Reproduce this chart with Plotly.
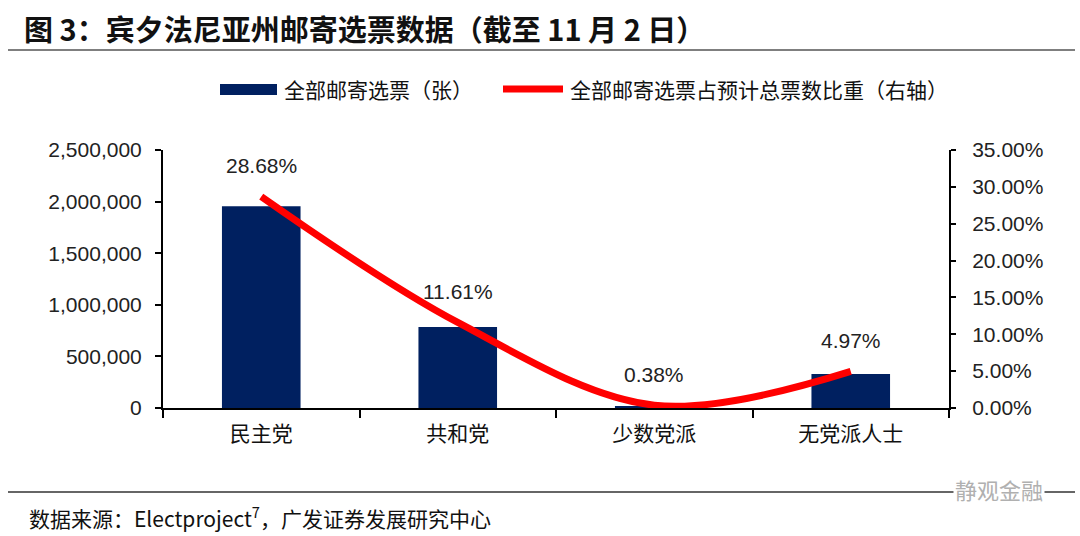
import plotly.graph_objects as go

categories = ["民主党", "共和党", "少数党派", "无党派人士"]
mail_ballots = [1955000, 785000, 15000, 330000]
share_pct = [0.2868, 0.1161, 0.0038, 0.0497]
share_labels = ["28.68%", "11.61%", "0.38%", "4.97%"]

title_text = "<b>图 3：宾夕法尼亚州邮寄选票数据（截至 11 月 2 日）</b>"
legend_bar = "全部邮寄选票（张）"
legend_line = "全部邮寄选票占预计总票数比重（右轴）"
source_text = "数据来源：Electproject<sup>7</sup>，广发证券发展研究中心"
watermark = "静观金融"

W, H = 1080, 536
L, R, T, B = 163, 131, 150, 128
PW, PH = W - L - R, H - T - B


def px(x):
    return (x - L) / PW


def py(y):
    return (H - B - y) / PH


CJK = "Noto Sans CJK SC, sans-serif"
NUM = "Arial, Liberation Sans, sans-serif"
NAVY = "#002060"
RED = "#FF0000"

fig = go.Figure()
fig.add_trace(go.Bar(x=categories, y=mail_ballots, marker_color=NAVY,
                     marker_line_width=0, yaxis="y", showlegend=False))
fig.add_trace(go.Scatter(x=categories, y=share_pct, mode="lines",
                         line=dict(color=RED, width=7, shape="spline", smoothing=1),
                         yaxis="y2", showlegend=False))

for c, v, t in zip(categories, share_pct, share_labels):
    fig.add_annotation(x=c, y=v, xref="x", yref="y2", text=t, showarrow=False,
                       yshift=31, font=dict(family=NUM, size=21, color="#222"))

# title & rules
fig.add_annotation(x=px(22), y=py(28), xref="paper", yref="paper", text=title_text,
                   showarrow=False, xanchor="left", yanchor="middle",
                   font=dict(family=CJK, size=29, color="#111"))
fig.add_shape(type="line", xref="paper", yref="paper", x0=px(8), x1=px(1075),
              y0=py(50), y1=py(50), line=dict(color="#7f7f7f", width=2))
fig.add_shape(type="line", xref="paper", yref="paper", x0=px(8), x1=px(1075),
              y0=py(492), y1=py(492), line=dict(color="#333", width=1.5))

# legend
fig.add_shape(type="rect", xref="paper", yref="paper", x0=px(220), x1=px(277),
              y0=py(95), y1=py(84), fillcolor=NAVY, line_width=0)
fig.add_annotation(x=px(282), y=py(89), xref="paper", yref="paper", text=legend_bar,
                   showarrow=False, xanchor="left", yanchor="middle",
                   font=dict(family=CJK, size=21, color="#111"))
fig.add_shape(type="line", xref="paper", yref="paper", x0=px(503), x1=px(563),
              y0=py(89), y1=py(89), line=dict(color=RED, width=7))
fig.add_annotation(x=px(568), y=py(89), xref="paper", yref="paper", text=legend_line,
                   showarrow=False, xanchor="left", yanchor="middle",
                   font=dict(family=CJK, size=21, color="#111"))

# footer
fig.add_annotation(x=px(27), y=py(517), xref="paper", yref="paper", text=source_text,
                   showarrow=False, xanchor="left", yanchor="middle",
                   font=dict(family=CJK, size=21, color="#111"))
fig.add_annotation(x=px(1045), y=py(489), xref="paper", yref="paper", text=watermark,
                   showarrow=False, xanchor="right", yanchor="middle", bgcolor="white",
                   font=dict(family=CJK, size=22, color="#b0b0b0"))

fig.update_layout(
    width=W, height=H, margin=dict(l=L, r=R, t=T, b=B),
    paper_bgcolor="white", plot_bgcolor="white", bargap=0.6,
    xaxis=dict(showline=True, linecolor="black", linewidth=2, ticks="outside",
               tickson="boundaries", ticklen=8, tickwidth=2, tickcolor="black",
               showgrid=False, tickfont=dict(family=CJK, size=21, color="#111"),
               ticklabelstandoff=6),
    yaxis=dict(range=[0, 2500000], dtick=500000, tickformat=",", showgrid=False,
               showline=True, linecolor="black", linewidth=2, ticks="outside",
               ticklen=6, tickwidth=2, tickcolor="black", zeroline=False,
               tickfont=dict(family=NUM, size=21, color="#222"), ticklabelstandoff=9),
    yaxis2=dict(range=[0, 0.35], dtick=0.05, tickformat=".2%", overlaying="y",
                side="right", showgrid=False, showline=True, linecolor="black",
                linewidth=2, ticks="outside", ticklen=5, tickwidth=2, tickcolor="black",
                zeroline=False, tickfont=dict(family=NUM, size=21, color="#222"),
                ticklabelstandoff=12),
)

fig.write_html("out.html", config={"displayModeBar": False},
               post_script="document.body.style.margin='0';")
